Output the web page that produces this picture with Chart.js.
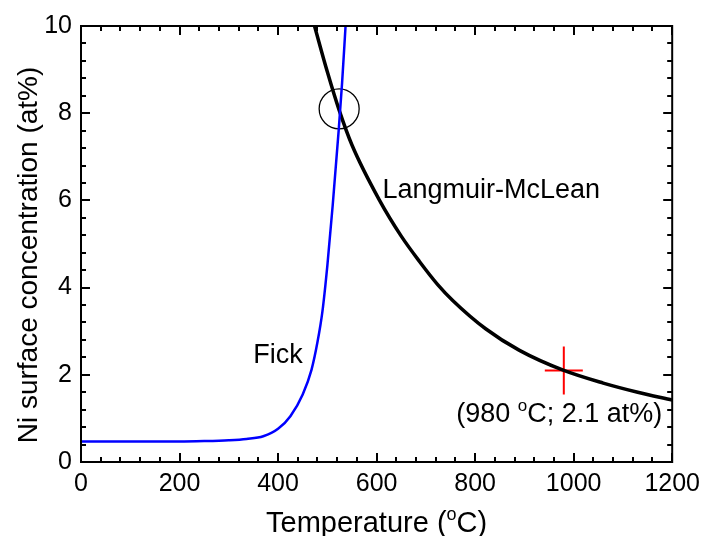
<!DOCTYPE html>
<html>
<head>
    <title>Ni surface concentration</title>
    <meta charset="utf-8">
    <script src="https://cdn.jsdelivr.net/npm/chart.js"></script>
    <style>
        body { margin: 0; background: #fff; }
        #wrap { width: 707px; height: 536px; }
    </style>
</head>
<body>
    <div id="wrap"><canvas id="myChart" width="707" height="536"></canvas></div>
    <script>
        // Fick curve (blue), temperature in oC / concentration in at%
        var fickT = [0, 100, 200, 250, 300, 336, 370, 400, 425, 450, 468, 480, 490, 500, 511, 523, 530, 537];
        var fickC = [0.47, 0.47, 0.47, 0.48, 0.5, 0.53, 0.59, 0.76, 1.05, 1.55, 2.12, 2.75, 3.45, 4.5, 5.9, 7.6, 8.7, 10.0];

        // Langmuir-McLean curve (black)
        var lmT = [474, 500, 524, 550, 606, 650, 687, 724, 755, 822, 890, 980, 1060, 1130, 1200];
        var lmC = [10.0, 8.95, 8.07, 7.27, 6.0, 5.18, 4.6, 4.07, 3.7, 3.05, 2.56, 2.1, 1.81, 1.6, 1.42];

        // measured point (red cross) and intersection (open circle)
        var measT = [980];
        var measC = [2.1];
        var crossT = [524];
        var crossC = [8.1];

        var xTicks = [0, 200, 400, 600, 800, 1000, 1200];
        var yTicks = [0, 2, 4, 6, 8, 10];

        var xTitle = ['Temperature (', 'o', 'C)'];
        var yTitle = 'Ni surface concentration (at%)';

        // text notes, anchored in data units
        var notes = [
            { parts: ['Fick'], x: 400, y: 2.26, align: 'center' },
            { parts: ['Langmuir-McLean'], x: 612, y: 6.05, align: 'left' },
            { parts: ['(980 ', 'o', 'C; 2.1 at%)'], x: 1180, y: 0.91, align: 'right' }
        ];

        var FONT = "'Liberation Sans', Arial, sans-serif";

        function pts(xs, ys) {
            var out = [];
            for (var i = 0; i < xs.length; i++) out.push({ x: xs[i], y: ys[i] });
            return out;
        }

        // draws text where odd parts are superscripts
        function drawParts(ctx, parts, x, y, size, align) {
            var small = Math.round(size * 0.62);
            var w = 0, widths = [];
            for (var i = 0; i < parts.length; i++) {
                ctx.font = (i % 2 ? small : size) + 'px ' + FONT;
                widths.push(ctx.measureText(parts[i]).width);
                w += widths[i];
            }
            var cx = align === 'center' ? x - w / 2 : (align === 'right' ? x - w : x);
            ctx.textAlign = 'left';
            ctx.textBaseline = 'alphabetic';
            for (var i = 0; i < parts.length; i++) {
                ctx.font = (i % 2 ? small : size) + 'px ' + FONT;
                ctx.fillText(parts[i], cx, i % 2 ? y - size * 0.42 : y);
                cx += widths[i];
            }
        }

        var frame = {
            id: 'frame',
            afterDatasetsDraw: function(chart) {
                var ctx = chart.ctx, a = chart.chartArea;
                var xs = chart.scales.x, ys = chart.scales.y;
                ctx.save();
                ctx.strokeStyle = '#000';
                ctx.lineWidth = 2;
                ctx.beginPath();
                for (var v = 0; v <= 1200; v += 40) {
                    var len = v % 200 === 0 ? 9 : 5;
                    var px = Math.round(xs.getPixelForValue(v));
                    ctx.moveTo(px, a.bottom); ctx.lineTo(px, a.bottom - len);
                    ctx.moveTo(px, a.top); ctx.lineTo(px, a.top + len);
                }
                for (var i = 0; i <= 25; i++) {
                    var len = i % 5 === 0 ? 9 : 5;
                    var py = Math.round(ys.getPixelForValue(i * 0.4));
                    ctx.moveTo(a.left, py); ctx.lineTo(a.left + len, py);
                    ctx.moveTo(a.right, py); ctx.lineTo(a.right - len, py);
                }
                ctx.stroke();
                ctx.strokeRect(a.left, a.top, a.right - a.left, a.bottom - a.top);

                ctx.fillStyle = '#000';
                notes.forEach(function(n) {
                    drawParts(ctx, n.parts, xs.getPixelForValue(n.x), ys.getPixelForValue(n.y), 27, n.align);
                });
                drawParts(ctx, xTitle, (a.left + a.right) / 2, 532, 29, 'center');

                // y title, rotated
                ctx.translate(37, 255);
                ctx.rotate(-Math.PI / 2);
                drawParts(ctx, [yTitle], 0, 0, 28, 'center');
                ctx.restore();
            }
        };

        var data = {
            datasets: [{
                label: 'Fick',
                data: pts(fickT, fickC),
                showLine: true,
                borderColor: 'rgb(0, 0, 255)',
                borderWidth: 2.5,
                pointRadius: 0,
                cubicInterpolationMode: 'monotone'
            }, {
                label: 'Langmuir-McLean',
                data: pts(lmT, lmC),
                showLine: true,
                borderColor: 'rgb(0, 0, 0)',
                borderWidth: 3.5,
                pointRadius: 0,
                cubicInterpolationMode: 'monotone'
            }, {
                label: 'circle',
                data: pts(crossT, crossC),
                pointStyle: 'circle',
                pointRadius: 20,
                borderColor: 'rgb(0, 0, 0)',
                backgroundColor: 'rgba(0, 0, 0, 0)',
                borderWidth: 1.3
            }, {
                label: 'meas-h',
                data: pts(measT, measC),
                pointStyle: 'line',
                pointRadius: 19,
                borderColor: 'rgb(255, 0, 0)',
                borderWidth: 2
            }, {
                label: 'meas-v',
                data: pts(measT, measC),
                pointStyle: 'line',
                pointRotation: 90,
                pointRadius: 24,
                borderColor: 'rgb(255, 0, 0)',
                borderWidth: 2
            }]
        };

        var config = {
            type: 'scatter',
            data: data,
            options: {
                responsive: false,
                animation: false,
                devicePixelRatio: 1,
                layout: { padding: { top: 24, right: 34, left: 0, bottom: 0 } },
                plugins: { legend: { display: false }, tooltip: { enabled: false } },
                scales: {
                    x: {
                        type: 'linear',
                        min: 0, max: 1200,
                        afterFit: function(s) { s.height = 74; },
                        afterBuildTicks: function(s) { s.ticks = xTicks.map(function(v) { return { value: v }; }); },
                        grid: { display: false, drawTicks: false },
                        border: { display: false },
                        ticks: {
                            padding: 7, color: '#000', font: { family: FONT, size: 25 },
                            callback: function(v) { return String(v); }
                        },
                        title: { display: false }
                    },
                    y: {
                        type: 'linear',
                        min: 0, max: 10,
                        afterFit: function(s) { s.width = 81; },
                        afterBuildTicks: function(s) { s.ticks = yTicks.map(function(v) { return { value: v }; }); },
                        grid: { display: false, drawTicks: false },
                        border: { display: false },
                        ticks: {
                            padding: 9, color: '#000', font: { family: FONT, size: 25 },
                            callback: function(v) { return String(v); }
                        },
                        title: { display: false }
                    }
                }
            },
            plugins: [frame]
        };

        var myChart = new Chart(document.getElementById('myChart'), config);
    </script>
</body>
</html>
